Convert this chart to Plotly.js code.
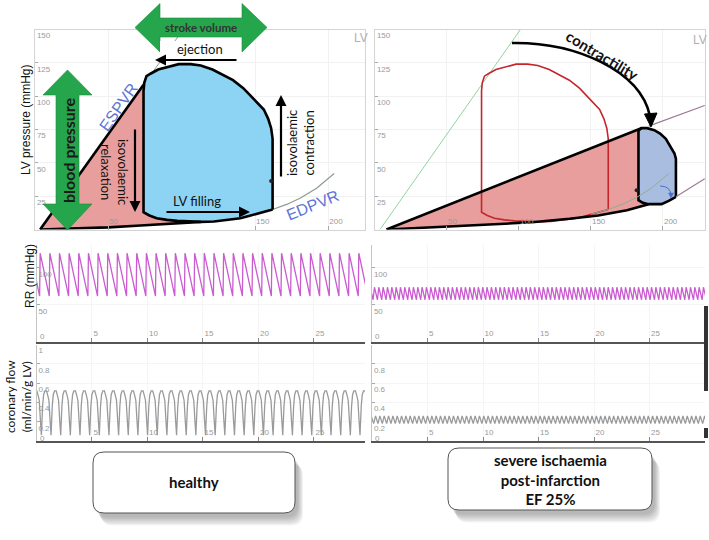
<!DOCTYPE html>
<html>
<head>
<meta charset="utf-8">
<script src="https://cdn.plot.ly/plotly-3.0.1.min.js"></script>
<style>
  html, body { margin: 0; padding: 0; background: #fff; }
  #chart { width: 709px; height: 540px; }
</style>
</head>
<body>
<div id="chart"></div>
<script>
// ---------- values ----------
// healthy PV loop (volume ml / pressure mmHg), from end-diastole round the loop
const loopV = [162, 162, 161, 159, 156, 149, 142, 135, 128, 121, 113, 106, 98, 90, 84, 79, 76, 74.5, 74, 74,
               78, 83, 90, 97, 105, 113, 122, 131, 140, 147, 155, 162];
const loopP = [15, 68, 76, 83, 90, 98, 106, 112, 116, 120, 123, 124, 124, 122, 120, 117, 115, 110, 104, 13,
               10.5, 8.5, 7.2, 6.5, 6, 5.7, 6, 7, 8.5, 10.5, 12.8, 15];

// severe ischaemia PV loop
const ischV = [209, 209, 208, 205, 202, 198, 194, 189, 185, 183, 183, 186, 190, 195, 199, 204, 209];
const ischP = [24.5, 53, 57, 63, 68, 72, 74.5, 76, 76, 74, 22, 20, 19, 19, 19, 21.5, 24.5];

// end-systolic and end-diastolic pressure-volume relations
const espvrV = [3.5, 101];            // healthy ESPVR
const espvrP = [0, 150];
const espvrEndV = [3.5, 74];          // black part, left panel
const espvrEndP = [0, 108.5];
const espvrIschV = [8, 185];          // reduced contractility
const espvrIschP = [0, 76];
const espvrIschExtV = [190, 229];
const espvrIschExtP = [77.5, 93];
const edpvrV = [150, 162, 172, 181, 192, 204];
const edpvrP = [11.5, 15, 19, 23.6, 31, 42];
const edpvrIschExtV = [209, 229];
const edpvrIschExtP = [24.5, 38];
const baseV = [3.5, 30, 50, 72, 90, 104, 113];           // black filling curve, left
const baseP = [0, 0.8, 1.6, 3, 4.3, 5.3, 5.7];
const baseIschV = [8, 40, 62.5, 90, 109, 135, 155, 175, 190];
const baseIschP = [0, 1.5, 2.8, 4.3, 5.5, 8, 10.5, 14.5, 19];

// RR and coronary flow traces: beat onsets (s) and beat levels
const beatsHealthy = [-0.59, 0.28, 1.15, 2.02, 2.89, 3.76, 4.63, 5.50, 6.37, 7.24, 8.11, 8.98, 9.85, 10.72,
  11.59, 12.46, 13.33, 14.20, 15.07, 15.94, 16.81, 17.68, 18.55, 19.42, 20.29, 21.16, 22.03, 22.90, 23.77,
  24.64, 25.51, 26.38, 27.25, 28.12, 28.99, 29.86];
const beatsIsch = [-0.29, 0.10, 0.49, 0.88, 1.27, 1.66, 2.05, 2.44, 2.83, 3.22, 3.61, 4.00, 4.39, 4.78, 5.17,
  5.56, 5.95, 6.34, 6.73, 7.12, 7.51, 7.90, 8.29, 8.68, 9.07, 9.46, 9.85, 10.24, 10.63, 11.02, 11.41, 11.80,
  12.19, 12.58, 12.97, 13.36, 13.75, 14.14, 14.53, 14.92, 15.31, 15.70, 16.09, 16.48, 16.87, 17.26, 17.65,
  18.04, 18.43, 18.82, 19.21, 19.60, 19.99, 20.38, 20.77, 21.16, 21.55, 21.94, 22.33, 22.72, 23.11, 23.50,
  23.89, 24.28, 24.67, 25.06, 25.45, 25.84, 26.23, 26.62, 27.01, 27.40, 27.79, 28.18, 28.57, 28.96, 29.35,
  29.74, 30.13];
// one beat: time after onset (s) and value
const rrHealthyT = [0, 0.05];
const rrHealthyV = [62, 120];
const rrIschT = [0, 0.12];
const rrIschV = [57, 74];
const corHealthyT = [0.16, 0.27, 0.36, 0.48, 0.62, 0.74, 0.84, 0.94];
const corHealthyV = [0.06, 0.36, 0.48, 0.52, 0.52, 0.47, 0.42, 0.22];
const corIschT = [0.05, 0.22];
const corIschV = [0.18, 0.26];

// ---------- helpers ----------
const W = 709, H = 540;
const X = px => px / W;
const Y = py => 1 - py / H;

function beatTrace(onsets, bt, bv) {
  const x = [], y = [];
  onsets.forEach(t0 => bt.forEach((dt, i) => { x.push(t0 + dt); y.push(bv[i]); }));
  return { x, y };
}

function line(xa, ya, xs, ys, color, width, extra) {
  return Object.assign({
    type: 'scatter', mode: 'lines', xaxis: xa, yaxis: ya, x: xs, y: ys,
    line: { color: color, width: width }, hoverinfo: 'skip'
  }, extra || {});
}

function pathPx(pts) {
  return pts.map((p, i) => (i ? 'L' : 'M') + X(p[0]) + ',' + Y(p[1])).join(' ') + ' Z';
}

function roundRect(x0, y0, x1, y1, r) {
  return 'M' + X(x0 + r) + ',' + Y(y0) + ' L' + X(x1 - r) + ',' + Y(y0) +
    ' Q' + X(x1) + ',' + Y(y0) + ' ' + X(x1) + ',' + Y(y0 + r) +
    ' L' + X(x1) + ',' + Y(y1 - r) +
    ' Q' + X(x1) + ',' + Y(y1) + ' ' + X(x1 - r) + ',' + Y(y1) +
    ' L' + X(x0 + r) + ',' + Y(y1) +
    ' Q' + X(x0) + ',' + Y(y1) + ' ' + X(x0) + ',' + Y(y1 - r) +
    ' L' + X(x0) + ',' + Y(y0 + r) +
    ' Q' + X(x0) + ',' + Y(y0) + ' ' + X(x0 + r) + ',' + Y(y0) + ' Z';
}

// ---------- traces ----------
const redFill = '#e79e9c';
const traces = [];

// left PV panel
traces.push(line('x', 'y', espvrV, espvrP, '#8c9c8f', 1));
traces.push(line('x', 'y', edpvrV, edpvrP, '#8c9c8f', 1.2));
const redLV = espvrEndV.concat(loopV.slice(19, 26), baseV.slice(0, 6).reverse());
const redLP = espvrEndP.concat(loopP.slice(19, 26), baseP.slice(0, 6).reverse());
traces.push(line('x', 'y', redLV, redLP, redFill, 0, { fill: 'toself', fillcolor: redFill }));
traces.push(line('x', 'y', loopV, loopP, '#000', 2.6, { fill: 'toself', fillcolor: '#8dd3f4' }));
traces.push(line('x', 'y', espvrEndV, espvrEndP, '#000', 2.6));
traces.push(line('x', 'y', baseV, baseP, '#000', 2.6));
traces.push({ type: 'scatter', mode: 'markers', xaxis: 'x', yaxis: 'y', x: [161], y: [36.4],
  marker: { color: '#222', size: 4 }, hoverinfo: 'skip' });

// right PV panel
traces.push(line('x2', 'y2', espvrV, espvrP, '#93d3a0', 1));
const redRV = espvrIschV.concat(ischV.slice(9, 13), baseIschV.slice(0, 8).reverse());
const redRP = espvrIschP.concat(ischP.slice(9, 13), baseIschP.slice(0, 8).reverse());
traces.push(line('x2', 'y2', redRV, redRP, redFill, 0, { fill: 'toself', fillcolor: redFill }));
traces.push(line('x2', 'y2', loopV, loopP, '#c4262c', 1.6));
traces.push(line('x2', 'y2', ischV, ischP, '#000', 2.6, { fill: 'toself', fillcolor: '#a8bde0' }));
traces.push(line('x2', 'y2', edpvrV, edpvrP, '#8fae94', 1));
traces.push(line('x2', 'y2', espvrIschExtV, espvrIschExtP, '#9b7a93', 1.2));
traces.push(line('x2', 'y2', edpvrIschExtV, edpvrIschExtP, '#9b7a93', 1.2));
traces.push(line('x2', 'y2', espvrIschV, espvrIschP, '#000', 2.6));
traces.push(line('x2', 'y2', baseIschV, baseIschP, '#000', 2.6));
traces.push({ type: 'scatter', mode: 'markers', xaxis: 'x2', yaxis: 'y2', x: [181.7], y: [29.5],
  marker: { color: '#222', size: 4 }, hoverinfo: 'skip' });

// RR
const rrH = beatTrace(beatsHealthy, rrHealthyT, rrHealthyV);
const rrI = beatTrace(beatsIsch, rrIschT, rrIschV);
traces.push(line('x3', 'y3', rrH.x, rrH.y, '#cb5bd0', 1.3));
traces.push(line('x4', 'y4', rrI.x, rrI.y, '#cb5bd0', 1.3));

// coronary flow
const corH = beatTrace(beatsHealthy, corHealthyT, corHealthyV);
const corI = beatTrace(beatsIsch, corIschT, corIschV);
traces.push(line('x5', 'y5', corH.x, corH.y, '#9a9a9a', 1.3));
traces.push(line('x6', 'y6', corI.x, corI.y, '#9a9a9a', 1.3));

// ---------- axes ----------
const tickFont = { family: 'Liberation Sans, Arial, sans-serif', size: 8, color: '#9a9a9a' };
function pvX(dom, range, vals) {
  return { domain: dom, range: range, tickvals: vals, ticks: 'inside', ticklen: 4, tickcolor: '#aaa',
    ticklabelposition: 'inside right', tickfont: tickFont, showline: true, mirror: true,
    linecolor: '#d4d4d4', gridcolor: '#f1f1f1', zeroline: false, fixedrange: true };
}
function pvY(anchor) {
  return { domain: [Y(229.5), Y(29.5)], range: [0, 150], tickvals: [25, 50, 75, 100, 125, 150],
    anchor: anchor, ticks: 'inside', ticklen: 3, tickcolor: '#aaa', ticklabelposition: 'inside bottom',
    tickfont: tickFont, showline: true, mirror: true, linecolor: '#d4d4d4', gridcolor: '#f1f1f1',
    zeroline: false, fixedrange: true };
}
function tX(dom, range, anchor) {
  return { domain: dom, range: range, anchor: anchor, tickvals: [0, 5, 10, 15, 20, 25], ticks: 'inside',
    ticklen: 4, tickcolor: '#888', ticklabelposition: 'inside right', tickfont: tickFont, showline: true,
    linecolor: '#555', linewidth: 2, showgrid: true, gridcolor: '#f5f5f5', zeroline: false, fixedrange: true };
}
function tY(dom, range, vals, anchor) {
  return { domain: dom, range: range, anchor: anchor, tickvals: vals, ticks: 'inside', ticklen: 3,
    tickcolor: '#aaa', ticklabelposition: 'inside bottom', tickfont: tickFont, showline: true,
    linecolor: '#c4c4c4', gridcolor: '#f5f5f5', zeroline: false, fixedrange: true };
}

const leftT = [X(36.5), X(365)];
const rightT = [X(372), X(705)];

// ---------- shapes ----------
const green = '#25a64c';
const shapes = [
  // stroke volume double arrow
  { type: 'path', xref: 'paper', yref: 'paper', layer: 'above', fillcolor: green, line: { color: '#1a8f3e', width: 0.6 },
    path: pathPx([[135, 27.5], [160, 3.5], [160, 18], [242, 18], [242, 3.5], [267, 27.5], [242, 52], [242, 37],
      [160, 37], [160, 52]]) },
  // blood pressure double arrow
  { type: 'path', xref: 'paper', yref: 'paper', layer: 'above', fillcolor: green, line: { color: '#1a8f3e', width: 0.6 },
    path: pathPx([[67.5, 70], [92, 95], [79, 95], [79, 204], [92, 204], [67.5, 230], [43, 204], [56, 204],
      [56, 95], [43, 95]]) },
  // white box behind "ejection"
  { type: 'rect', xref: 'paper', yref: 'paper', layer: 'above', x0: X(160), x1: X(240), y0: Y(58), y1: Y(41),
    fillcolor: '#fff', line: { width: 0 } },
  // contractility arc
  { type: 'path', xref: 'paper', yref: 'paper', layer: 'above', line: { color: '#000', width: 2.6 },
    path: 'M' + X(512) + ',' + Y(43) + ' C' + X(575) + ',' + Y(42) + ' ' + X(640) + ',' + Y(70) + ' ' + X(650) + ',' + Y(116) },
  { type: 'path', xref: 'paper', yref: 'paper', layer: 'above', fillcolor: '#000', line: { color: '#000', width: 1 },
    path: pathPx([[651, 127], [644.5, 114], [657, 113]]) },
  // small blue curved arrow inside ischaemic loop
  { type: 'path', xref: 'paper', yref: 'paper', layer: 'above', line: { color: '#4a6fd0', width: 1 },
    path: 'M' + X(660) + ',' + Y(186) + ' Q' + X(671) + ',' + Y(186) + ' ' + X(671) + ',' + Y(196) },
  { type: 'path', xref: 'paper', yref: 'paper', layer: 'above', fillcolor: '#4a6fd0', line: { color: '#4a6fd0', width: 0.5 },
    path: pathPx([[671, 198], [668.5, 193], [673.5, 193]]) },
  // scroll bars at the right edge
  { type: 'rect', xref: 'paper', yref: 'paper', x0: X(704), x1: X(708), y0: Y(342), y1: Y(306),
    fillcolor: '#333', line: { width: 0 } },
  { type: 'rect', xref: 'paper', yref: 'paper', x0: X(704), x1: X(708), y0: Y(391), y1: Y(341),
    fillcolor: '#333', line: { width: 0 } },
  { type: 'rect', xref: 'paper', yref: 'paper', x0: X(704), x1: X(708), y0: Y(438), y1: Y(428),
    fillcolor: '#333', line: { width: 0 } }
];
// label boxes with soft shadows
[[93, 452, 295, 513], [448, 448, 652, 510]].forEach(b => {
  for (let i = 6; i >= 1; i--) {
    shapes.push({ type: 'path', xref: 'paper', yref: 'paper', layer: 'above', fillcolor: 'rgba(0,0,0,0.05)',
      line: { width: 0 }, path: roundRect(b[0] + 2 + i, b[1] + 3 + i * 1.6, b[2] + 2 + i, b[3] + 3 + i * 1.6, 12) });
  }
  shapes.push({ type: 'path', xref: 'paper', yref: 'paper', layer: 'above', fillcolor: '#fff',
    line: { color: '#555', width: 1 }, path: roundRect(b[0], b[1], b[2], b[3], 11) });
});

// ---------- annotations ----------
const lato = 'Lato, "Open Sans", sans-serif';
const arial = '"Liberation Sans", Arial, sans-serif';
function txt(x, y, text, size, opts) {
  return Object.assign({ xref: 'paper', yref: 'paper', x: X(x), y: Y(y), text: text, showarrow: false,
    xanchor: 'center', yanchor: 'middle', font: { family: lato, size: size, color: '#111' } }, opts || {});
}
function arrow(hx, hy, tx, ty) {
  return { xref: 'paper', yref: 'paper', x: X(hx), y: Y(hy), ax: tx - hx, ay: ty - hy, text: '',
    showarrow: true, arrowhead: 2, arrowsize: 1, arrowwidth: 2.2, arrowcolor: '#000', standoff: 0, startstandoff: 0 };
}
function zero(x, y) {
  return txt(x, y, '0', 8, { xanchor: 'left', font: tickFont });
}
const blue = '#5b74d6';
const annotations = [
  txt(26, 120, 'LV pressure (mmHg)', 12, { textangle: -90, font: { family: arial, size: 12, color: '#111' } }),
  txt(30, 276, 'RR (mmHg)', 12, { textangle: -90, font: { family: arial, size: 12, color: '#111' } }),
  txt(18, 397, 'coronary flow<br>(ml/min/g LV)', 12, { textangle: -90 }),
  txt(68, 150, '<b>blood pressure</b>', 16, { textangle: -90, font: { family: lato, size: 16, color: '#1a1a1a' } }),
  txt(201, 27.5, '<b>stroke volume</b>', 11.5, { font: { family: lato, size: 11.5, color: '#333' } }),
  txt(200, 49, 'ejection', 13),
  txt(118, 107, 'ESPVR', 16, { textangle: -55, font: { family: arial, size: 16, color: blue } }),
  txt(312, 205, 'EDPVR', 16, { textangle: -22, font: { family: arial, size: 16, color: blue } }),
  txt(115, 172, 'isovolaemic<br>relaxation', 13, { textangle: 90 }),
  txt(300, 143, 'isovolaemic<br>contraction', 13, { textangle: -90 }),
  txt(197, 201, 'LV filling', 13),
  txt(361, 38, 'LV', 12, { font: { family: arial, size: 12, color: '#b0b0b0' } }),
  txt(700, 40, 'LV', 12, { font: { family: arial, size: 12, color: '#b0b0b0' } }),
  txt(602, 55, '<b>contractility</b>', 15, { textangle: 31 }),
  txt(194, 482, '<b>healthy</b>', 15),
  txt(550, 479, '<b>severe ischaemia<br>post-infarction<br>EF 25%</b>', 15),
  zero(37.5, 336), zero(373.5, 336), zero(37.5, 438), zero(373.5, 438),
  arrow(155, 60, 238, 60),
  arrow(135, 212, 135, 128),
  arrow(281, 95, 281, 178),
  arrow(250, 212, 165, 212)
];

const layout = {
  width: W, height: H, margin: { l: 0, r: 0, t: 0, b: 0 },
  paper_bgcolor: '#fff', plot_bgcolor: '#fff', showlegend: false,
  xaxis: Object.assign(pvX([X(35), X(365)], [0, 225], [50, 150, 200]), { anchor: 'y' }),
  yaxis: pvY('x'),
  xaxis2: Object.assign(pvX([X(375), X(705)], [0, 229.2], [50, 100, 150, 200]), { anchor: 'y2' }),
  yaxis2: pvY('x2'),
  xaxis3: tX(leftT, [0, 29.6], 'y3'),
  yaxis3: tY([Y(342), Y(245)], [0, 131], [50, 100], 'x3'),
  xaxis4: tX(rightT, [0, 30], 'y4'),
  yaxis4: tY([Y(342), Y(245)], [0, 131], [50, 100], 'x4'),
  xaxis5: tX(leftT, [0, 29.6], 'y5'),
  yaxis5: tY([Y(441), Y(344.5)], [0, 1], [0.2, 0.4, 0.6, 0.8, 1], 'x5'),
  xaxis6: tX(rightT, [0, 30], 'y6'),
  yaxis6: tY([Y(441), Y(344.5)], [0, 1], [0.2, 0.4, 0.6, 0.8], 'x6'),
  shapes: shapes,
  annotations: annotations
};

Plotly.newPlot('chart', traces, layout, { displayModeBar: false, staticPlot: true });
</script>
</body>
</html>
